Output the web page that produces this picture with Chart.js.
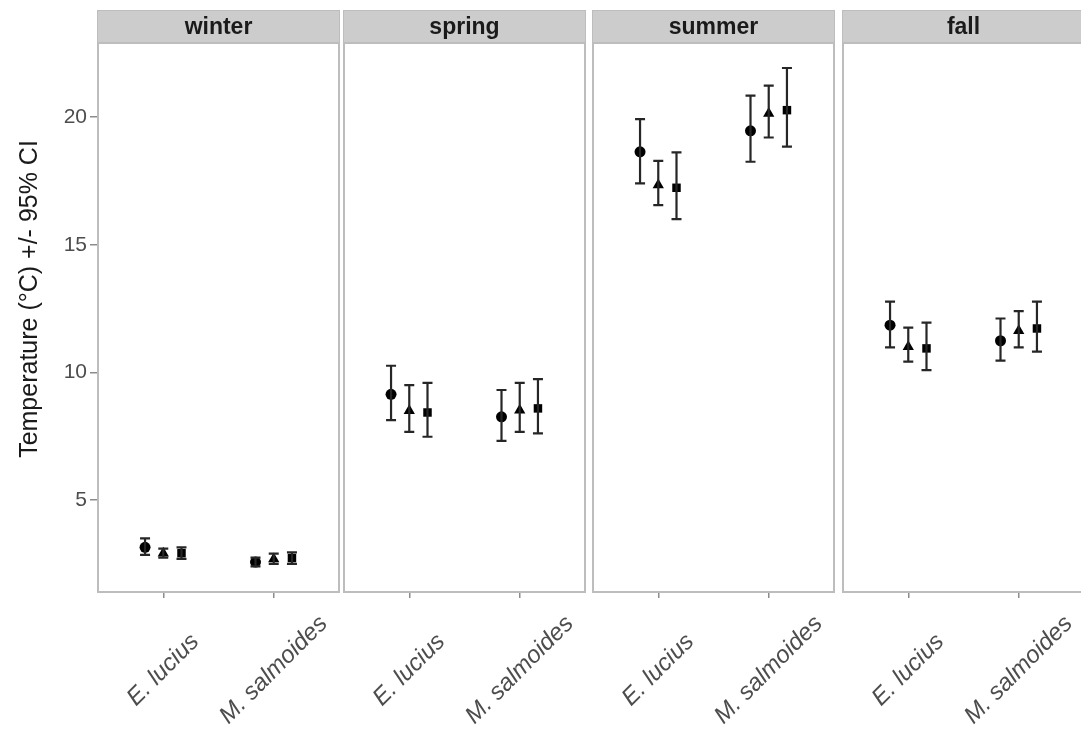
<!DOCTYPE html>
<html>
<head>
<meta charset="utf-8">
<script src="https://cdn.jsdelivr.net/npm/chart.js@4.4.1/dist/chart.umd.min.js"></script>
<style>
  html, body { margin: 0; padding: 0; background: #fff; }
  #wrap { position: relative; width: 1081px; height: 736px; overflow: hidden; }
  .panel { position: absolute; top: 0; height: 736px; }
</style>
</head>
<body>
<div id="wrap"></div>
<script>
// facets, categories and ticks
const seasons = ['winter', 'spring', 'summer', 'fall'];
const species = ['E. lucius', 'M. salmoides'];
const groups = ['group 1', 'group 2', 'group 3'];
const yTicks = [5, 10, 15, 20];
const yTitle = 'Temperature (°C) +/- 95% CI';

// order in every array: E. lucius g1,g2,g3, then M. salmoides g1,g2,g3
const winterMean = [3.15, 2.92, 2.92, 2.57, 2.69, 2.73];
const winterLow  = [2.85, 2.75, 2.70, 2.40, 2.50, 2.50];
const winterHigh = [3.50, 3.10, 3.15, 2.75, 2.90, 2.95];

const springMean = [9.14, 8.50, 8.43, 8.26, 8.52, 8.59];
const springLow  = [8.13, 7.67, 7.48, 7.32, 7.67, 7.61];
const springHigh = [10.26, 9.50, 9.59, 9.31, 9.59, 9.74];

const summerMean = [18.64, 17.34, 17.23, 19.46, 20.14, 20.27];
const summerLow  = [17.40, 16.55, 16.00, 18.25, 19.20, 18.84];
const summerHigh = [19.92, 18.28, 18.62, 20.84, 21.23, 21.92];

const fallMean = [11.85, 11.00, 10.94, 11.24, 11.63, 11.72];
const fallLow  = [10.98, 10.42, 10.09, 10.46, 10.98, 10.81];
const fallHigh = [12.77, 11.75, 11.95, 12.11, 12.40, 12.77];

const seasonData = {
    winter: { mean: winterMean, low: winterLow, high: winterHigh },
    spring: { mean: springMean, low: springLow, high: springHigh },
    summer: { mean: summerMean, low: summerLow, high: summerHigh },
    fall:   { mean: fallMean,   low: fallLow,   high: fallHigh }
};

// layout
const panelLeft = [97, 343, 592, 842];
const panelWidth = 243;
const yAxisWidth = 97;
const dodge = [-0.165, 0, 0.165];
const pointStyles = ['circle', 'triangle', 'rect'];
const pointSizes = [5.5, 6.5, 6];

const FONT = "'Liberation Sans', Arial, Helvetica, sans-serif";

// strip, panel border, error bars and rotated category labels
const facetPlugin = {
    id: 'facet',
    beforeDraw(chart) {
        const ctx = chart.ctx;
        const a = chart.chartArea;
        ctx.save();
        ctx.fillStyle = '#cccccc';
        ctx.fillRect(a.left, 10, a.right - a.left, a.top - 10);
        ctx.strokeStyle = '#bdbdbd';
        ctx.lineWidth = 1;
        ctx.strokeRect(a.left + 0.5, 10.5, a.right - a.left - 1, a.top - 10);
        ctx.fillStyle = '#1a1a1a';
        ctx.font = 'bold 23px ' + FONT;
        ctx.textAlign = 'center';
        ctx.textBaseline = 'middle';
        ctx.fillText(chart.options.plugins.facet.title, (a.left + a.right) / 2, (10 + a.top) / 2 + 1);
        // y axis title, only on the first panel
        if (chart.options.plugins.facet.showTitle) {
            ctx.save();
            ctx.translate(30, 299);
            ctx.rotate(-Math.PI / 2);
            ctx.font = '25px ' + FONT;
            ctx.fillText(yTitle, 0, 0);
            ctx.restore();
        }
        ctx.restore();
    },
    afterDatasetsDraw(chart) {
        const ctx = chart.ctx;
        const a = chart.chartArea;
        const xs = chart.scales.x;
        const ys = chart.scales.y;
        const d = chart.options.plugins.facet.data;
        ctx.save();
        // error bars
        ctx.strokeStyle = '#262626';
        ctx.lineWidth = 2.2;
        for (let s = 0; s < species.length; s++) {
            for (let g = 0; g < groups.length; g++) {
                const i = s * groups.length + g;
                const x = xs.getPixelForValue(s + 1 + dodge[g]);
                const y1 = ys.getPixelForValue(d.low[i]);
                const y2 = ys.getPixelForValue(d.high[i]);
                ctx.beginPath();
                ctx.moveTo(x, y1); ctx.lineTo(x, y2);
                ctx.moveTo(x - 5, y1); ctx.lineTo(x + 5, y1);
                ctx.moveTo(x - 5, y2); ctx.lineTo(x + 5, y2);
                ctx.stroke();
            }
        }
        // panel border
        ctx.strokeStyle = '#bdbdbd';
        ctx.lineWidth = 2;
        ctx.strokeRect(a.left + 1, a.top, a.right - a.left - 2, a.bottom - a.top);
        // category labels, rotated 45 and centred on the tick
        ctx.fillStyle = '#4d4d4d';
        ctx.font = 'italic 24px ' + FONT;
        ctx.textAlign = 'center';
        ctx.textBaseline = 'middle';
        species.forEach((name, s) => {
            const x = xs.getPixelForValue(s + 1);
            ctx.save();
            ctx.translate(x, a.bottom + 78);
            ctx.rotate(-Math.PI / 4);
            ctx.fillText(name, 0, 0);
            ctx.restore();
        });
        ctx.restore();
    }
};

const wrap = document.getElementById('wrap');

seasons.forEach((season, k) => {
    const first = k === 0;
    const div = document.createElement('div');
    div.className = 'panel';
    const left = first ? 0 : panelLeft[k] - 2;
    const width = first ? yAxisWidth + panelWidth + 2 : panelWidth + 4;
    div.style.left = left + 'px';
    div.style.width = width + 'px';
    const canvas = document.createElement('canvas');
    canvas.width = width;
    canvas.height = 736;
    canvas.style.width = width + 'px';
    canvas.style.height = '736px';
    div.appendChild(canvas);
    wrap.appendChild(div);

    const d = seasonData[season];
    const datasets = groups.map((g, gi) => ({
        label: g,
        data: species.map((sp, s) => ({ x: s + 1 + dodge[gi], y: d.mean[s * groups.length + gi] })),
        pointStyle: pointStyles[gi],
        pointRadius: pointSizes[gi],
        pointHoverRadius: pointSizes[gi],
        backgroundColor: '#000',
        borderColor: '#000',
        borderWidth: 0
    }));

    new Chart(canvas, {
        type: 'scatter',
        data: { datasets: datasets },
        plugins: [facetPlugin],
        options: {
            responsive: false,
            animation: false,
            devicePixelRatio: 1,
            layout: { autoPadding: false, padding: { top: 43, left: first ? 0 : 2, right: 2, bottom: 0 } },
            plugins: {
                legend: { display: false },
                tooltip: { enabled: false },
                facet: { title: season, data: d, showTitle: first }
            },
            scales: {
                x: {
                    type: 'linear',
                    min: 0.4,
                    max: 2.6,
                    afterBuildTicks: s => { s.ticks = species.map((sp, i) => ({ value: i + 1 })); },
                    afterFit: s => { s.height = 144; },
                    grid: { drawOnChartArea: false, drawTicks: true, tickLength: 6, color: '#8c8c8c', lineWidth: 1.5 },
                    border: { display: false },
                    ticks: { display: false }
                },
                y: {
                    display: first,
                    min: 1.40,
                    max: 22.90,
                    afterBuildTicks: s => { s.ticks = yTicks.map(v => ({ value: v })); },
                    afterFit: s => { s.width = first ? yAxisWidth : 0; },
                    grid: { drawOnChartArea: false, drawTicks: true, tickLength: 7, color: '#8c8c8c', lineWidth: 1.5 },
                    border: { display: false },
                    ticks: {
                        color: '#4d4d4d',
                        padding: 3,
                        font: { family: FONT, size: 21 }
                    }
                }
            }
        }
    });
});
</script>
</body>
</html>
